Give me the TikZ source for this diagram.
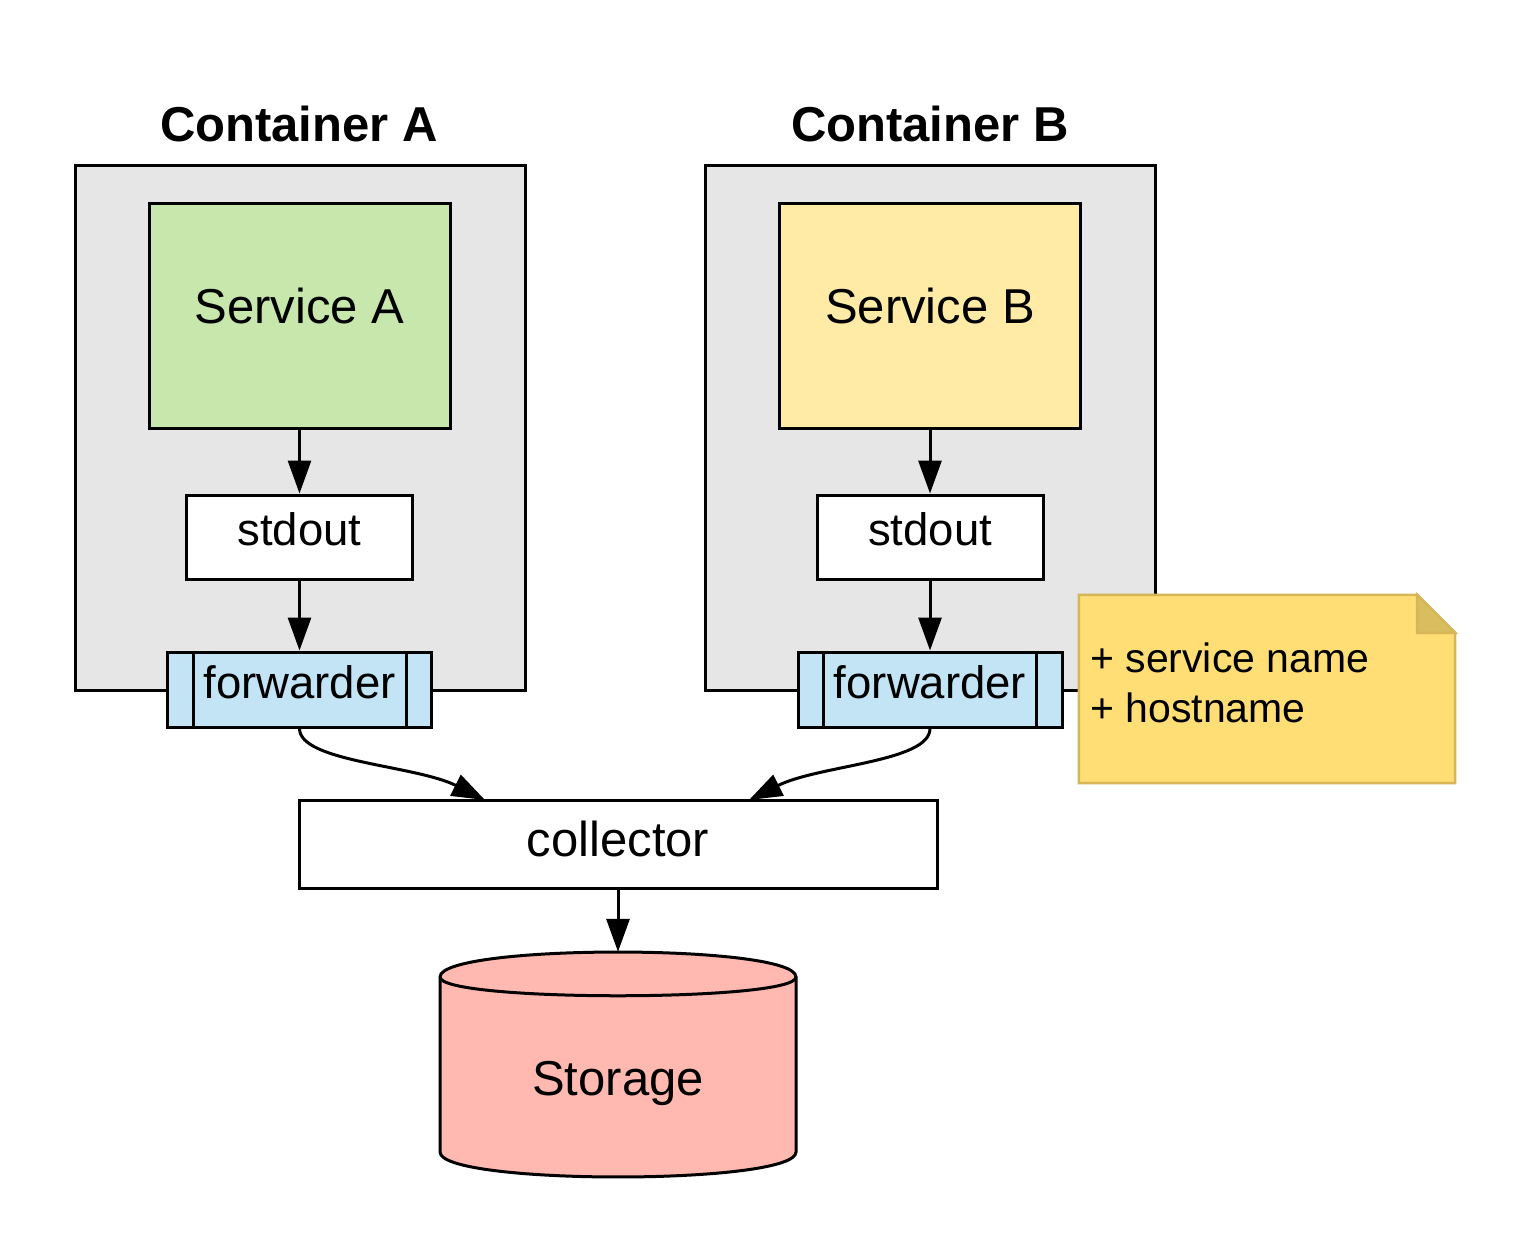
\documentclass[tikz,border=0pt]{standalone}
\usepackage{fontspec}
\setmainfont{Liberation Sans}
\usetikzlibrary{arrows.meta}
\definecolor{contgray}{HTML}{E6E6E6}
\definecolor{svcgreen}{HTML}{C7E7AD}
\definecolor{svcyellow}{HTML}{FFEBA6}
\definecolor{fwdblue}{HTML}{C3E4F5}
\definecolor{storred}{HTML}{FFB9B0}
\definecolor{notefill}{HTML}{FFDE75}
\definecolor{notedraw}{HTML}{D6B656}
\definecolor{notefold}{HTML}{D9BD5E}
\begin{document}
\begin{tikzpicture}[x=1pt,y=-1pt,
  box/.style={draw=black, line width=3pt, inner sep=0pt, anchor=center},
  container/.style={box, fill=contgray, minimum width=450pt, minimum height=525pt},
  service/.style={box, minimum width=301pt, minimum height=225pt},
  stdbox/.style={box, fill=white, minimum width=226pt, minimum height=84pt},
  fwdbox/.style={box, fill=fwdblue, minimum width=264pt, minimum height=75pt},
  bigtxt/.style={inner sep=0pt, anchor=base, font=\fontsize{49}{59}\selectfont},
  midtxt/.style={inner sep=0pt, anchor=base, font=\fontsize{45.5}{55}\selectfont},
  titletxt/.style={inner sep=0pt, anchor=base, font=\fontsize{49}{59}\selectfont\bfseries},
  notetxt/.style={inner sep=0pt, anchor=base west, font=\fontsize{41}{50}\selectfont},
  arr/.style={line width=3pt, -{Triangle[length=33pt,width=23pt]}},
]
\useasboundingbox (0,0) rectangle (1530,1253);

% containers
\node[container] (contA) at (300,427.5) {};
\node[container] (contB) at (930,427.5) {};
\node[titletxt] (titleA) at (299,141) {Container A};
\node[titletxt] (titleB) at (930,141) {Container B};

% services
\node[service, fill=svcgreen] (svcA) at (299.5,315.5) {};
\node[service, fill=svcyellow] (svcB) at (930,315.5) {};
\node[bigtxt] (tSA) at (299.5,323) {Service A};
\node[bigtxt] (tSB) at (930,323) {Service B};

% stdout
\node[stdbox] (stdA) at (299.5,537) {};
\node[stdbox] (stdB) at (930,537) {};
\node[midtxt] (tStdA) at (299.5,545) {stdout};
\node[midtxt] (tStdB) at (930,545) {stdout};

% forwarders
\node[fwdbox] (fwdA) at (299.5,689.5) {};
\node[fwdbox] (fwdB) at (930,689.5) {};
\draw[line width=3pt] ([xshift=27pt]fwdA.north west) -- ([xshift=27pt]fwdA.south west);
\draw[line width=3pt] ([xshift=-27pt]fwdA.north east) -- ([xshift=-27pt]fwdA.south east);
\draw[line width=3pt] ([xshift=27pt]fwdB.north west) -- ([xshift=27pt]fwdB.south west);
\draw[line width=3pt] ([xshift=-27pt]fwdB.north east) -- ([xshift=-27pt]fwdB.south east);
\node[midtxt] (tFA) at (299.5,698) {forwarder};
\node[midtxt] (tFB) at (930,698) {forwarder};

% collector
\node[box, fill=white, minimum width=638pt, minimum height=88pt] (coll) at (618,844) {};
\node[bigtxt] (tColl) at (618,856) {collector};

% storage (cylinder)
\node[inner sep=0pt, minimum width=356pt, minimum height=225pt] (sto) at (618,1064.5) {};
\draw[line width=3pt, fill=storred]
  (440,977) .. controls (440,943.7) and (796,943.7) .. (796,977)
  -- (796,1152) .. controls (796,1185.3) and (440,1185.3) .. (440,1152) -- cycle;
\draw[line width=3pt] (440,977) .. controls (440,1002) and (796,1002) .. (796,977);
\node[bigtxt] (tSto) at (618,1095) {Storage};

% note
\node[inner sep=0pt, minimum width=376pt, minimum height=188pt] (note) at (1267,689) {};
\draw[draw=notedraw, line width=2.5pt, fill=notefill, line join=miter]
  (note.north west) -- ([xshift=-38pt]note.north east) -- ([yshift=-38pt]note.north east)
  -- (note.south east) -- (note.south west) -- cycle;
\draw[draw=notedraw, line width=2.5pt, fill=notefold, line join=miter]
  ([xshift=-38pt]note.north east) -- ([xshift=-38pt,yshift=-38pt]note.north east)
  -- ([yshift=-38pt]note.north east) -- cycle;
\node[notetxt] (n1) at (1090,672) {+ service name};
\node[notetxt] (n2) at (1090,722) {+ hostname};

% connectors
\coordinate (cA) at (485,800);
\coordinate (cB) at (749,800);
\draw[arr] (svcA.south) -- (stdA.north);
\draw[arr] (stdA.south) -- (fwdA.north);
\draw[arr] (svcB.south) -- (stdB.north);
\draw[arr] (stdB.south) -- (fwdB.north);
\draw[arr] (fwdA.south) .. controls (299.5,762) and (415,765) .. (cA);
\draw[arr] (fwdB.south) .. controls (930,762) and (819,765) .. (cB);
\draw[arr] (coll.south) -- (sto.north);
\end{tikzpicture}
\end{document}
